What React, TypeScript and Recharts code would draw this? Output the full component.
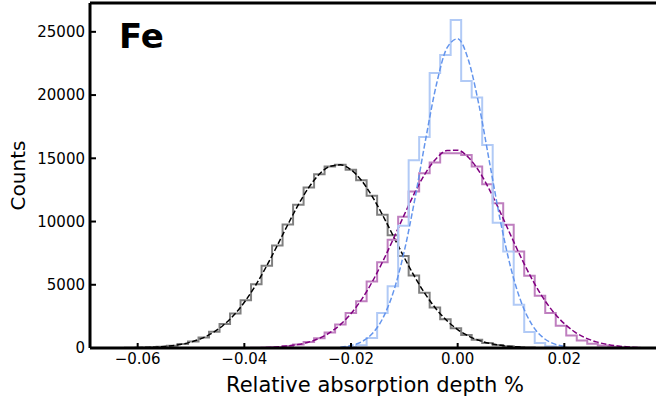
import React from 'react';
import { LineChart, Line, XAxis, YAxis, ReferenceLine } from 'recharts';

// histogram bin grid (shared by all three samples)
const BIN_START = -0.06632;
const BIN_WIDTH = 0.00197;

// counts per bin; firstBin = index of the first non-empty bin on the grid
const grayFirstBin = 0;
const grayCounts = [4, 7, 15, 30, 57, 104, 185, 316, 522, 832, 1281, 1901, 2727, 3776, 5046, 6512, 8114, 9759, 11330, 12700, 13745, 14360, 14483, 14103, 13258, 12032, 10541, 8916, 7281, 5741, 4369, 3209, 2276, 1559, 1031, 657, 405, 241, 138, 77, 41];

const purpleFirstBin = 14;
const purpleCounts = [23, 45, 86, 157, 278, 472, 773, 1218, 1850, 2760, 3700, 5250, 6783, 8550, 10384, 12370, 13825, 14660, 15400, 15400, 15270, 14350, 12950, 11455, 9740, 7630, 5710, 4130, 2765, 1760, 995, 600, 340, 190, 100, 50, 25];

const blueFirstBin = 23;
const blueCounts = [80, 220, 790, 2765, 4880, 9660, 14840, 16690, 21750, 23170, 25940, 21120, 19810, 16060, 9900, 7630, 3420, 1260, 395, 140, 40];

// dashed gaussian fits
const grayFitX = [-0.066, -0.064, -0.062, -0.06, -0.058, -0.056, -0.054, -0.052, -0.05, -0.048, -0.046, -0.044, -0.042, -0.04, -0.038, -0.036, -0.034, -0.032, -0.03, -0.028, -0.026, -0.024, -0.022, -0.02, -0.018, -0.016, -0.014, -0.012, -0.01, -0.008, -0.006, -0.004, -0.002, 0, 0.002, 0.004, 0.006, 0.008, 0.01, 0.012];
const grayFitY = [3, 6, 12, 25, 48, 89, 161, 280, 470, 760, 1185, 1782, 2584, 3617, 4878, 6345, 7960, 9629, 11235, 12641, 13716, 14354, 14484, 14095, 13228, 11971, 10449, 8795, 7138, 5588, 4218, 3071, 2156, 1460, 953, 600, 364, 213, 120, 66];

const purpleFitX = [-0.036, -0.034, -0.032, -0.03, -0.028, -0.026, -0.024, -0.022, -0.02, -0.018, -0.016, -0.014, -0.012, -0.01, -0.008, -0.006, -0.004, -0.002, 0, 0.002, 0.004, 0.006, 0.008, 0.01, 0.012, 0.014, 0.016, 0.018, 0.02, 0.022, 0.024, 0.026, 0.028, 0.03, 0.032, 0.034];
const purpleFitY = [42, 81, 150, 268, 460, 760, 1208, 1848, 2720, 3851, 5249, 6883, 8685, 10546, 12321, 13855, 14992, 15609, 15639, 15078, 13989, 12489, 10729, 8870, 7057, 5402, 3980, 2820, 1925, 1262, 797, 485, 284, 160, 86, 45];

const blueFitX = [-0.022, -0.02, -0.018, -0.016, -0.014, -0.012, -0.01, -0.008, -0.006, -0.004, -0.002, 0, 0.002, 0.004, 0.006, 0.008, 0.01, 0.012, 0.014, 0.016, 0.018, 0.02];
const blueFitY = [69, 194, 495, 1142, 2384, 4498, 7673, 11836, 16503, 20808, 23723, 24451, 22786, 19198, 14624, 10072, 6272, 3531, 1798, 828, 344, 130];

const xTicks = [-0.06, -0.04, -0.02, 0, 0.02];
const yTicks = [0, 5000, 10000, 15000, 20000, 25000];
const X_DOMAIN = [-0.06894, 0.03794];
const Y_MAX = 27280;

const FONT = 'DejaVu Sans, sans-serif';
const TICK_MARGIN = 5;
const TICK_FONT = 15;

function stepPoints(first: number, counts: number[]) {
  const pts: { x: number; y: number }[] = [];
  const x0 = BIN_START + first * BIN_WIDTH;
  pts.push({ x: x0, y: 0 });
  counts.forEach((c, i) => pts.push({ x: BIN_START + (first + i) * BIN_WIDTH, y: c }));
  const xe = BIN_START + (first + counts.length) * BIN_WIDTH;
  pts.push({ x: xe, y: counts[counts.length - 1] });
  pts.push({ x: xe, y: 0 });
  return pts;
}
const zip = (xs: number[], ys: number[]) => xs.map((x, i) => ({ x, y: ys[i] }));

const grayHist = stepPoints(grayFirstBin, grayCounts);
const purpleHist = stepPoints(purpleFirstBin, purpleCounts);
const blueHist = stepPoints(blueFirstBin, blueCounts);
const grayFit = zip(grayFitX, grayFitY);
const purpleFit = zip(purpleFitX, purpleFitY);
const blueFit = zip(blueFitX, blueFitY);

const fmtX = (v: number) => (v < 0 ? '\u2212' : '') + Math.abs(v).toFixed(2);

const XTick = (p: any) => {
  const { x, y, payload } = p;
  const ay = y - TICK_MARGIN;
  return (
    <g>
      <line x1={x} x2={x} y1={ay} y2={ay - 5} stroke="#000" strokeWidth={2} />
      <text x={x} y={y} dy="0.76em" textAnchor="middle" fontSize={TICK_FONT} fontFamily={FONT} fill="#000">{fmtX(payload.value)}</text>
    </g>
  );
};

const YTick = (p: any) => {
  const { x, y, payload } = p;
  const ax = x + TICK_MARGIN + 1;
  return (
    <g>
      <line x1={ax} x2={ax + 5} y1={y} y2={y} stroke="#000" strokeWidth={2} />
      <text x={x} y={y} dy="0.36em" textAnchor="end" fontSize={TICK_FONT} fontFamily={FONT} fill="#000">{String(payload.value)}</text>
    </g>
  );
};

const YLabel = (p: any) => {
  const vb = p.viewBox;
  const cx = vb.x + 18;
  const cy = vb.y + vb.height / 2;
  return (
    <text x={cx} y={cy} transform={`rotate(-90 ${cx} ${cy})`} textAnchor="middle" dominantBaseline="central" fontSize={20} fontFamily={FONT} fill="#000">Counts</text>
  );
};

export default function App() {
  return (
    <div style={{ position: 'absolute', left: 0, top: 0, width: 656, height: 401, overflow: 'hidden', background: '#fff' }}>
      <LineChart width={660} height={401} margin={{ top: 3, right: 0, bottom: 0, left: 0 }}>
        <XAxis
          type="number"
          dataKey="x"
          domain={X_DOMAIN}
          ticks={xTicks}
          allowDataOverflow
          height={53}
          tickSize={0}
          tickMargin={TICK_MARGIN}
          tickLine={false}
          axisLine={{ stroke: '#000', strokeWidth: 3 }}
          tick={<XTick />}
          label={{ value: 'Relative absorption depth %', position: 'insideBottom', offset: 9, style: { fontSize: 21, fontFamily: FONT, fill: '#000' } }}
        />
        <YAxis
          type="number"
          dataKey="y"
          domain={[0, Y_MAX]}
          ticks={yTicks}
          allowDataOverflow
          width={90}
          tickSize={0}
          tickMargin={TICK_MARGIN}
          tickLine={false}
          axisLine={{ stroke: '#000', strokeWidth: 3 }}
          tick={<YTick />}
          label={{ content: <YLabel /> }}
        />
        <ReferenceLine y={Y_MAX} stroke="#000" strokeWidth={3} ifOverflow="visible" />
        <Line data={grayHist} dataKey="y" type="stepAfter" stroke="#808080" strokeWidth={2} dot={false} isAnimationActive={false} />
        <Line data={grayFit} dataKey="y" type="monotone" stroke="#000" strokeWidth={1.5} strokeDasharray="5.5 2.4" dot={false} isAnimationActive={false} />
        <Line data={purpleHist} dataKey="y" type="stepAfter" stroke="#bf7fbf" strokeWidth={2} dot={false} isAnimationActive={false} />
        <Line data={purpleFit} dataKey="y" type="monotone" stroke="#800080" strokeWidth={1.5} strokeDasharray="5.5 2.4" dot={false} isAnimationActive={false} />
        <Line data={blueHist} dataKey="y" type="stepAfter" stroke="#b1caf6" strokeWidth={2} dot={false} isAnimationActive={false} />
        <Line data={blueFit} dataKey="y" type="monotone" stroke="#6495ed" strokeWidth={1.5} strokeDasharray="5.5 2.4" dot={false} isAnimationActive={false} />
      </LineChart>
      <div style={{ position: 'absolute', left: 119, top: 19, fontFamily: FONT, fontWeight: 'bold', fontSize: 34, lineHeight: '34px', color: '#000' }}>Fe</div>
    </div>
  );
}
